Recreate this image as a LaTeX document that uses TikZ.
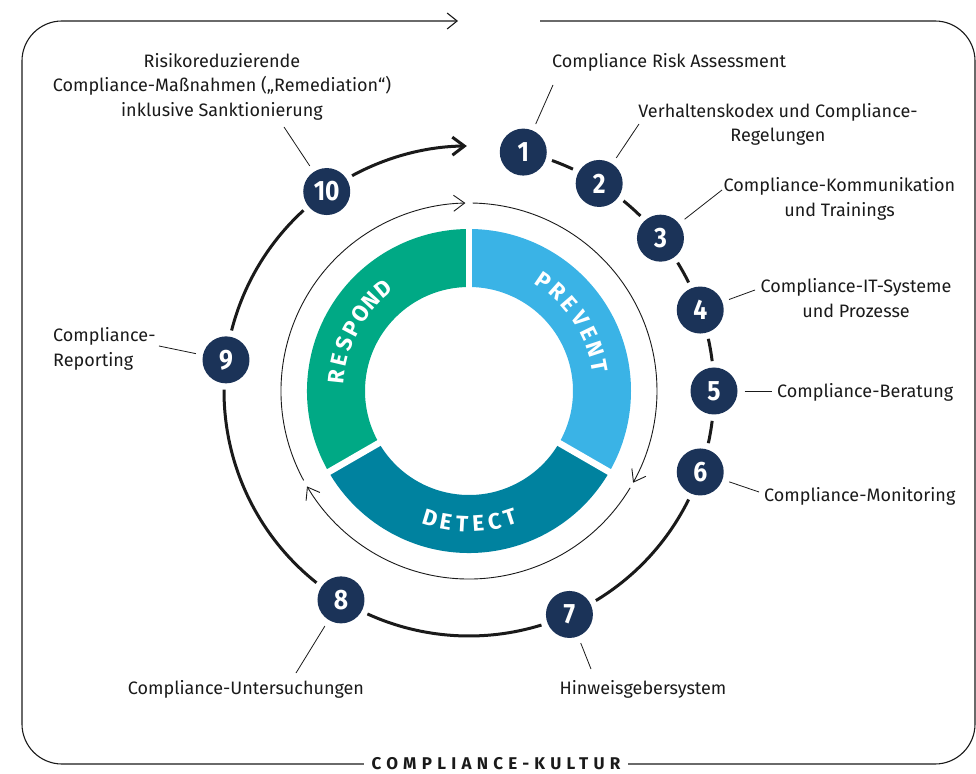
\documentclass[tikz,border=0pt]{standalone}
\usepackage{fontspec}
\setmainfont{Fira Sans}
\newfontfamily\numfont{Fira Sans}[FakeStretch=0.88]
\usetikzlibrary{arrows.meta}
\definecolor{preventblue}{RGB}{58,179,230}
\definecolor{detectteal}{RGB}{0,130,159}
\definecolor{respondgreen}{RGB}{0,169,133}
\definecolor{navy}{RGB}{27,51,88}
\definecolor{ink}{RGB}{26,26,26}

\begin{document}
\begin{tikzpicture}[x=1pt, y=1pt,
    num/.style={circle, fill=navy, text=white, minimum size=47pt, inner sep=0pt,
        font=\numfont\fontsize{28}{28}\selectfont\bfseries},
    ringline/.style={line width=3pt, draw=ink},
    cyclearc/.style={line width=0.9pt, draw=ink},
    frame/.style={line width=1.1pt, draw=ink},
    leader/.style={line width=0.8pt, draw=ink, shorten <=7pt},
    lbl/.style={inner sep=0pt, text=ink, font=\fontsize{18}{24.5}\selectfont},
    segtxt/.style={inner sep=0pt, text=white, font=\fontsize{22.5}{22.5}\selectfont\bfseries},
    kultur/.style={fill=white, inner xsep=8pt, text=ink,
        font=\fontsize{17}{17}\selectfont\bfseries\addfontfeatures{LetterSpace=31}}
]
    \useasboundingbox (-469,-382) rectangle (507,391);

    % frame
    \draw[frame, rounded corners=40pt, -{Straight Barb[length=10pt,width=16pt]}]
        (71,370) -- (506,370) -- (506,-373) -- (-447,-373) -- (-447,370) -- (-11,370);
    \node[kultur] (kultur) at (27,-373) {COMPLIANCE-KULTUR};

    % ring segments
    \fill[preventblue] (90:162) arc[start angle=90, end angle=-30, radius=162]
        -- (-30:104) arc[start angle=-30, end angle=90, radius=104] -- cycle;
    \fill[detectteal] (-30:162) arc[start angle=-30, end angle=-150, radius=162]
        -- (-150:104) arc[start angle=-150, end angle=-30, radius=104] -- cycle;
    \fill[respondgreen] (210:162) arc[start angle=210, end angle=90, radius=162]
        -- (90:104) arc[start angle=90, end angle=210, radius=104] -- cycle;
    \foreach \a in {90,-30,210}
        \draw[white, line width=6.5pt] (\a:100) -- (\a:166);

    % segment words
    \foreach \ch [count=\i from 0] in {R,E,S,P,O,N,D} {
        \pgfmathsetmacro\a{174-\i*7.33}
        \node[segtxt, rotate=\a-90] at (\a:133) {\ch};
    }
    \foreach \ch [count=\i from 0] in {P,R,E,V,E,N,T} {
        \pgfmathsetmacro\a{55.8-\i*7.52}
        \node[segtxt, rotate=\a-90] at (\a:133) {\ch};
    }
    \foreach \ch [count=\i from 0] in {D,E,T,E,C,T} {
        \pgfmathsetmacro\a{-107+\i*7}
        \node[segtxt, rotate=\a+90] at (\a:133) {\ch};
    }

    % inner cycle arrows
    \draw[cyclearc, -{Straight Barb[length=11pt,width=16pt]}]
        (88.9:188) arc[start angle=88.9, end angle=-29.2, radius=188];
    \draw[cyclearc, -{Straight Barb[length=11pt,width=16pt]}]
        (-31:188) arc[start angle=-31, end angle=-149.5, radius=188];
    \draw[cyclearc, -{Straight Barb[length=11pt,width=16pt]}]
        (208.4:188) arc[start angle=208.4, end angle=91.1, radius=188];

    % outer cycle
    \foreach \a/\b in {77.2/57.9, 57.9/38.6, 38.6/19.3, 19.3/0, 0/-19.3,
                       -19.3/-65.8, -65.8/-121.5, -121.5/-187.3, -187.3/-234.5}
        \draw[ringline] ({\a-7}:245) arc[start angle=\a-7, end angle=\b+7, radius=245];
    \draw[ringline, -{Straight Barb[length=12pt,width=18pt]}]
        (118.5:245) arc[start angle=118.5, end angle=90.5, radius=245];

    \node[num] (n1) at (77.2:245) {1};
    \node[num] (n2) at (57.9:245) {2};
    \node[num] (n3) at (38.6:245) {3};
    \node[num] (n4) at (19.3:245) {4};
    \node[num] (n5) at (0:245) {5};
    \node[num] (n6) at (-19.3:245) {6};
    \node[num] (n7) at (-65.8:245) {7};
    \node[num] (n8) at (-121.5:245) {8};
    \node[num] (n9) at (172.7:245) {9};
    \node[num] (n10) at (125.5:245) {10};

    % labels
    \node[lbl, anchor=west] (l1) at (83,329) {Compliance Risk Assessment};
    \node[lbl, align=center] (l2) at (309,266.5) {Verhaltenskodex und Compliance-\\Regelungen};
    \node[lbl, align=center] (l3) at (370.5,192) {Compliance-Kommunikation\\und Trainings};
    \node[lbl, align=center] (l4) at (387,93) {Compliance-IT-Systeme\\und Prozesse};
    \node[lbl, anchor=west] (l5) at (308,-1) {Compliance-Beratung};
    \node[lbl, anchor=west] (l6) at (295,-105) {Compliance-Monitoring};
    \node[lbl] (l7) at (174,-298) {Hinweisgebersystem};
    \node[lbl] (l8) at (-223,-298) {Compliance-Untersuchungen};
    \node[lbl, align=left, anchor=west] (l9) at (-416,42) {Compliance-\\Reporting};
    \node[lbl, align=center] (l10) at (-247,304.5)
        {Risikoreduzierende\\Compliance-Maßnahmen („Remediation“)\\inklusive Sanktionierung};

    % leader lines
    \coordinate (e1) at (84,306);
    \coordinate (e2) at (170,267);
    \coordinate (e3) at (253,201);
    \coordinate (e4) at (286,101);
    \coordinate (e5) at (303,0);
    \coordinate (e6) at (290,-101);
    \coordinate (e7) at (122,-278);
    \coordinate (e8) at (-173,-282);
    \coordinate (e9) at (-310,45);
    \coordinate (e10) at (-185,264);
    \foreach \i in {1,...,10}
        \draw[leader] (n\i) -- (e\i);
\end{tikzpicture}
\end{document}
